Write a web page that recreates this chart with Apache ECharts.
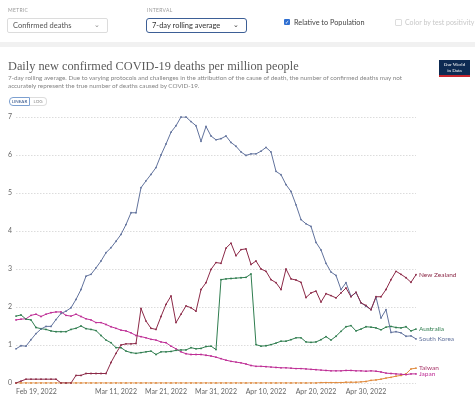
<!DOCTYPE html>
<html>
<head>
<meta charset="utf-8">
<script src="https://cdn.jsdelivr.net/npm/echarts@6/dist/echarts.min.js"></script>
<style>
  html, body { margin:0; padding:0; width:475px; height:403px; background:#fff; overflow:hidden; font-family: Lato, "Noto Sans", sans-serif; }
  #chart { position:absolute; left:0; top:0; width:475px; height:403px; }
  .abs { position:absolute; white-space:nowrap; }
  .lbl { font-size:5px; color:#9a9a9a; letter-spacing:0.3px; }
  .dd { position:absolute; box-sizing:border-box; border:1px solid #dcdcdc; border-radius:2px; font-size:7.5px; color:#555; padding-left:5px; line-height:13px; }
  .dd .chev { position:absolute; right:7px; top:-1px; font-size:7px; color:#888; }
  .ttl { font-family:"Liberation Serif", "DejaVu Serif", serif; font-size:12.3px; color:#5b5b5b; }
  .sub { font-size:6.3px; color:#858585; }
</style>
</head>
<body>
<div id="chart"></div>
<div class="abs lbl" style="left:8px;top:7px;">METRIC</div>
<div class="dd" style="left:7px;top:18px;width:101px;height:15px;">Confirmed deaths<span class="chev">&#8964;</span></div>
<div class="abs lbl" style="left:147px;top:7px;">INTERVAL</div>
<div class="dd" style="left:146px;top:18px;width:101px;height:15px;border-color:#3d5f96;border-radius:3px;color:#333;">7-day rolling average<span class="chev" style="color:#333;">&#8964;</span></div>
<div class="abs" style="left:284px;top:19px;width:6px;height:6px;background:#2f6fd1;border-radius:1px;color:#fff;font-size:5px;line-height:6px;text-align:center;">&#10003;</div>
<div class="abs" style="left:294px;top:17.5px;font-size:7.3px;color:#444;">Relative to Population</div>
<div class="abs" style="left:395px;top:19px;width:5px;height:5px;border:0.5px solid #ddd;border-radius:1px;"></div>
<div class="abs" style="left:405px;top:17.5px;font-size:7px;color:#c8c8c8;">Color by test positivity</div>
<div class="abs" style="left:0;top:42px;width:475px;height:5px;background:#f1f1f1;"></div>
<div class="abs ttl" style="left:8px;top:59px;">Daily new confirmed COVID-19 deaths per million people</div>
<div class="abs sub" style="left:8px;top:74px;">7-day rolling average. Due to varying protocols and challenges in the attribution of the cause of death, the number of confirmed deaths may not</div>
<div class="abs sub" style="left:8px;top:82px;">accurately represent the true number of deaths caused by COVID-19.</div>
<div class="abs" style="left:439px;top:60px;width:31px;height:17px;background:#0d2a52;border-bottom:2px solid #c8262e;box-sizing:border-box;color:#fff;font-family:'Liberation Serif',serif;font-size:5px;line-height:5.5px;text-align:center;padding-top:2px;">Our World<br>in Data</div>
<div class="abs" style="left:9px;top:97px;width:21px;height:9px;border:1px solid #7da0d0;border-radius:4px 0 0 4px;box-sizing:border-box;font-size:4.5px;line-height:7px;text-align:center;color:#2b4e86;">LINEAR</div>
<div class="abs" style="left:30px;top:97px;width:17px;height:9px;border:1px solid #ddd;border-left:none;border-radius:0 4px 4px 0;box-sizing:border-box;font-size:4.5px;line-height:7px;text-align:center;color:#888;">LOG</div>
<script>
var dates = [
 "2022-02-19","2022-02-20","2022-02-21","2022-02-22","2022-02-23","2022-02-24","2022-02-25","2022-02-26","2022-02-27","2022-02-28",
 "2022-03-01","2022-03-02","2022-03-03","2022-03-04","2022-03-05","2022-03-06","2022-03-07","2022-03-08","2022-03-09","2022-03-10",
 "2022-03-11","2022-03-12","2022-03-13","2022-03-14","2022-03-15","2022-03-16","2022-03-17","2022-03-18","2022-03-19","2022-03-20",
 "2022-03-21","2022-03-22","2022-03-23","2022-03-24","2022-03-25","2022-03-26","2022-03-27","2022-03-28","2022-03-29","2022-03-30",
 "2022-03-31","2022-04-01","2022-04-02","2022-04-03","2022-04-04","2022-04-05","2022-04-06","2022-04-07","2022-04-08","2022-04-09",
 "2022-04-10","2022-04-11","2022-04-12","2022-04-13","2022-04-14","2022-04-15","2022-04-16","2022-04-17","2022-04-18","2022-04-19",
 "2022-04-20","2022-04-21","2022-04-22","2022-04-23","2022-04-24","2022-04-25","2022-04-26","2022-04-27","2022-04-28","2022-04-29",
 "2022-04-30","2022-05-01","2022-05-02","2022-05-03","2022-05-04","2022-05-05","2022-05-06","2022-05-07","2022-05-08","2022-05-09",
 "2022-05-10"
];
var tickDates = ["2022-02-19","2022-03-11","2022-03-21","2022-03-31","2022-04-10","2022-04-20","2022-04-30"];
var yTicks = [0,1,2,3,4,5,6,7];

var southKorea = [
 0.90,0.98,0.97,1.14,1.30,1.42,1.49,1.49,1.67,1.83,
 1.89,1.98,2.20,2.46,2.81,2.86,3.03,3.21,3.43,3.56,
 3.73,3.91,4.17,4.48,4.48,5.14,5.32,5.49,5.67,6.00,
 6.29,6.60,6.77,7.00,7.00,6.88,6.77,6.36,6.75,6.50,
 6.40,6.43,6.50,6.33,6.23,6.08,5.99,6.03,6.03,6.10,
 6.20,6.08,5.57,5.48,5.22,5.04,4.69,4.30,4.19,4.12,
 3.70,3.50,3.15,2.92,2.83,2.46,2.64,2.28,2.38,2.11,
 2.02,1.93,2.26,1.71,1.93,1.33,1.35,1.32,1.23,1.24,
 1.16
];
var newZealand = [
 0.00,0.05,0.10,0.10,0.10,0.10,0.10,0.10,0.10,0.00,
 0.00,0.00,0.20,0.20,0.25,0.25,0.25,0.25,0.25,0.54,
 0.78,1.00,1.03,1.03,1.04,1.96,1.63,1.44,1.41,1.75,
 2.07,2.29,1.59,1.81,2.03,1.98,1.89,2.46,2.64,2.99,
 3.17,3.15,3.55,3.68,3.35,3.51,3.53,3.12,3.21,3.00,
 2.94,2.72,2.64,2.46,3.00,2.74,2.71,2.65,2.25,2.37,
 2.42,2.13,2.35,2.30,2.24,2.37,2.50,2.27,2.39,2.11,
 2.04,1.93,2.27,2.27,2.46,2.72,2.94,2.86,2.77,2.65,
 2.85
];
var australia = [
 1.76,1.79,1.68,1.66,1.46,1.43,1.41,1.37,1.35,1.35,
 1.35,1.41,1.44,1.50,1.43,1.41,1.38,1.25,1.13,1.06,
 0.93,0.93,0.84,0.80,0.78,0.80,0.82,0.84,0.75,0.82,
 0.82,0.83,0.86,0.87,0.87,0.93,0.90,0.91,0.96,0.97,
 0.88,2.72,2.74,2.75,2.76,2.77,2.78,2.87,1.01,0.97,
 0.98,1.01,1.05,1.10,1.10,1.14,1.19,1.19,1.08,1.07,
 1.08,1.14,1.22,1.13,1.23,1.36,1.48,1.51,1.37,1.42,
 1.48,1.47,1.45,1.40,1.47,1.49,1.46,1.45,1.48,1.37,
 1.42
];
var japan = [
 1.66,1.68,1.69,1.78,1.81,1.75,1.81,1.85,1.87,1.87,
 1.78,1.76,1.81,1.75,1.69,1.66,1.59,1.59,1.54,1.48,
 1.44,1.39,1.37,1.32,1.25,1.22,1.19,1.15,1.13,1.08,
 1.06,0.97,0.90,0.82,0.77,0.75,0.75,0.75,0.73,0.71,
 0.68,0.64,0.60,0.57,0.55,0.53,0.50,0.46,0.44,0.44,
 0.43,0.42,0.41,0.40,0.40,0.39,0.38,0.38,0.37,0.36,
 0.35,0.34,0.33,0.32,0.32,0.32,0.33,0.33,0.32,0.32,
 0.31,0.32,0.31,0.29,0.26,0.25,0.24,0.23,0.22,0.24,
 0.24
];
var taiwan = [
 0.00,0.00,0.00,0.00,0.00,0.00,0.00,0.00,0.00,0.00,
 0.00,0.00,0.00,0.00,0.00,0.00,0.00,0.00,0.00,0.00,
 0.00,0.00,0.00,0.00,0.00,0.00,0.00,0.00,0.00,0.00,
 0.00,0.00,0.00,0.00,0.00,0.00,0.00,0.00,0.00,0.00,
 0.00,0.00,0.00,0.00,0.00,0.00,0.00,0.00,0.00,0.00,
 0.00,0.00,0.00,0.00,0.00,0.00,0.00,0.00,0.00,0.00,
 0.00,0.01,0.01,0.01,0.01,0.01,0.02,0.02,0.02,0.03,
 0.04,0.07,0.08,0.10,0.13,0.15,0.18,0.20,0.24,0.37,
 0.39
];

var monthNames = ["Jan","Feb","Mar","Apr","May","Jun","Jul","Aug","Sep","Oct","Nov","Dec"];
function fmtDate(s) {
  var p = s.split("-");
  return monthNames[parseInt(p[1],10)-1] + " " + parseInt(p[2],10) + ", " + p[0];
}

function mk(name, data, color, labelColor) {
  return {
    name: name, type: 'line', data: data,
    symbol: 'circle', symbolSize: 1.8, showAllSymbol: true,
    lineStyle: { color: color, width: 1 },
    itemStyle: { color: color },
    emphasis: { disabled: true },
    endLabel: { show: true, formatter: '{a}', color: labelColor || color, fontSize: 6.5, distance: 3, fontFamily: 'Lato' },
    animation: false
  };
}

var chart = echarts.init(document.getElementById('chart'), null, { renderer: 'canvas' });
chart.setOption({
  animation: false,
  grid: { left: 16, right: 59, top: 117, bottom: 20 },
  xAxis: {
    type: 'category', data: dates, boundaryGap: false,
    axisLine: { show: false }, axisTick: { show: false },
    axisLabel: {
      interval: function (i, v) { return tickDates.indexOf(v) >= 0; },
      formatter: fmtDate, color: '#666', fontSize: 7, margin: 5, fontFamily: 'Lato',
      alignMinLabel: 'left', showMinLabel: true
    },
    splitLine: { show: false }
  },
  yAxis: {
    type: 'value', min: yTicks[0], max: yTicks[yTicks.length-1], interval: 1,
    axisLine: { show: false }, axisTick: { show: false },
    axisLabel: { color: '#666', fontSize: 7, margin: 4, fontFamily: 'Lato' },
    splitLine: { show: true, lineStyle: { color: '#dcdcdc', type: [1.5, 1.5], width: 1 } }
  },
  series: [
    mk('Taiwan', taiwan, '#e08a3c', '#a8386a'),
    mk('Japan', japan, '#be2d95'),
    mk('Australia', australia, '#2f7d4f'),
    mk('South Korea', southKorea, '#62739d'),
    mk('New Zealand', newZealand, '#8c2a48')
  ]
});
</script>
</body>
</html>
